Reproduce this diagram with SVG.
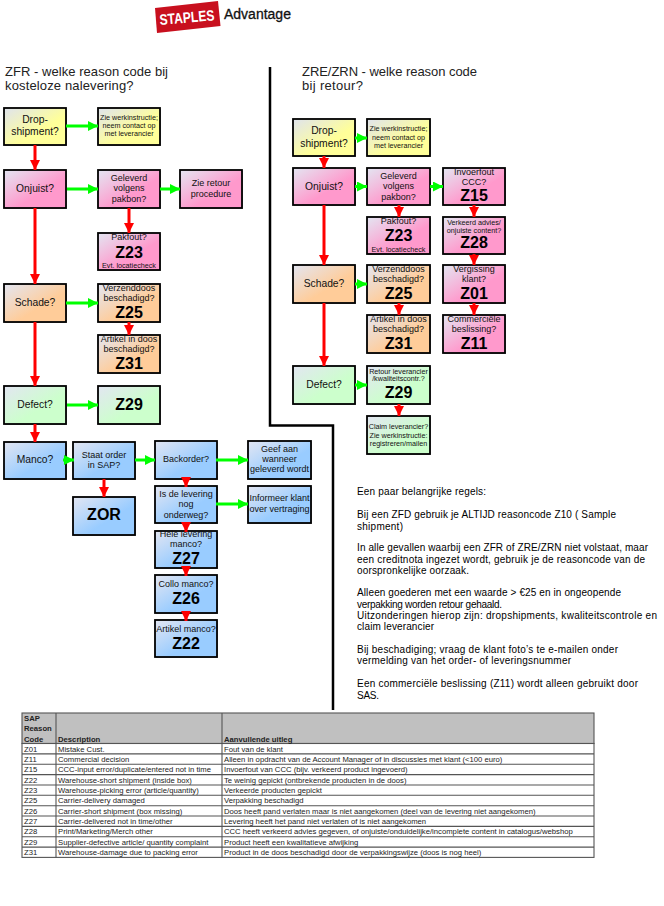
<svg xmlns="http://www.w3.org/2000/svg" width="664" height="906" viewBox="0 0 664 906">
<style>
text{font-family:"Liberation Sans",Arial,sans-serif;fill:#111}
.box{stroke:#000;stroke-width:1.8}
.sh{fill:#bbb}
.y{fill:url(#gy)}.p{fill:url(#gp)}.o{fill:url(#go)}.g{fill:url(#gg)}.b{fill:url(#gb)}
.n text{text-anchor:middle}
.m{font-size:10.3px}.k{font-size:9px}.s{font-size:7.2px}.c{font-size:16px;font-weight:bold;fill:#000}
.t{font-size:13px;fill:#222}
.r{stroke:#f00;stroke-width:3;fill:none;marker-end:url(#ar)}
.v{stroke:#0f0;stroke-width:3;fill:none;marker-end:url(#av)}
.note text{font-size:10px;fill:#000}
.tb text{font-size:7.7px;fill:#222}
.tb .h{font-weight:bold}
.tb line,.tb rect{stroke:#555;stroke-width:1.100}
</style>
<defs>
<linearGradient id="gy" x1="0" y1="0" x2="1" y2="1"><stop offset="0" stop-color="#dfe3ee"/><stop offset=".6" stop-color="#ffff99"/></linearGradient>
<linearGradient id="gp" x1="0" y1="0" x2="1" y2="1"><stop offset="0" stop-color="#e3e6f2"/><stop offset=".6" stop-color="#ff99cc"/></linearGradient>
<linearGradient id="go" x1="0" y1="0" x2="1" y2="1"><stop offset="0" stop-color="#e3e6f2"/><stop offset=".6" stop-color="#ffcc99"/></linearGradient>
<linearGradient id="gg" x1="0" y1="0" x2="1" y2="1"><stop offset="0" stop-color="#e3e6f2"/><stop offset=".6" stop-color="#ccffcc"/></linearGradient>
<linearGradient id="gb" x1="0" y1="0" x2="1" y2="1"><stop offset="0" stop-color="#e3e6f2"/><stop offset=".6" stop-color="#99ccff"/></linearGradient>
<marker id="ar" markerUnits="userSpaceOnUse" markerWidth="11" markerHeight="11" refX="10" refY="5" orient="auto"><path d="M0 0L10 5L0 10z" fill="#f00"/></marker>
<marker id="av" markerUnits="userSpaceOnUse" markerWidth="11" markerHeight="11" refX="10" refY="5" orient="auto"><path d="M0 0L10 5L0 10z" fill="#0f0"/></marker>
</defs>
<rect width="664" height="906" fill="#fff"/>
<g id="logo"><polygon points="155,8 218,1 220.500,26 157,33" fill="#c8101e"/><text x="160" y="25" transform="rotate(-5 160 25)" textLength="55" lengthAdjust="spacingAndGlyphs" style="font-size:15px;font-weight:bold;fill:#fff">STAPLES</text><text x="224" y="19" style="font-size:14px;fill:#111;stroke:#111;stroke-width:.3px">Advantage</text></g>
<g id="titles"><text class="t" x="5" y="76" textLength="163">ZFR - welke reason code bij</text><text class="t" x="5" y="90" textLength="128.500">kosteloze nalevering?</text><text class="t" x="302" y="76" textLength="175">ZRE/ZRN - welke reason code</text><text class="t" x="302" y="90" textLength="61">bij retour?</text></g>
<path id="divider" d="M270 67V425.500H333V710" fill="none" stroke="#000" stroke-width="2.500"/>

<g class="n" id="l-drop"><rect class="sh" x="5" y="109" width="62" height="37"/><rect class="box y" x="4" y="108" width="62" height="37"/><text class="m" x="35" y="123">Drop-</text><text class="m" x="35" y="135">shipment?</text></g>
<g class="n" id="l-zie"><rect class="sh" x="99" y="109" width="62" height="37"/><rect class="box y" x="98" y="108" width="62" height="37"/><text class="s" x="129" y="120">Zie werkinstructie;</text><text class="s" x="129" y="128">neem contact op</text><text class="s" x="129" y="136">met leverancier</text></g>
<g class="n" id="l-onjuist"><rect class="sh" x="5" y="171" width="62" height="38"/><rect class="box p" x="4" y="170" width="62" height="38"/><text class="m" x="35" y="192">Onjuist?</text></g>
<g class="n" id="l-geleverd"><rect class="sh" x="99" y="171" width="62" height="38"/><rect class="box p" x="98" y="170" width="62" height="38"/><text class="k" x="129" y="181">Geleverd</text><text class="k" x="129" y="191">volgens</text><text class="k" x="129" y="201.500">pakbon?</text></g>
<g class="n" id="l-retour"><rect class="sh" x="181" y="171" width="62" height="38"/><rect class="box p" x="180" y="170" width="62" height="38"/><text class="k" x="211" y="186">Zie retour</text><text class="k" x="211" y="197">procedure</text></g>
<g class="n" id="l-z23"><rect class="sh" x="99" y="234" width="62" height="37"/><rect class="box p" x="98" y="233" width="62" height="37"/><text class="k" x="129" y="240">Pakfout?</text><text class="c" x="129" y="258">Z23</text><text class="s" x="129" y="268">Evt. locatiecheck</text></g>
<g class="n" id="l-schade"><rect class="sh" x="5" y="285" width="62" height="38"/><rect class="box o" x="4" y="284" width="62" height="38"/><text class="m" x="35" y="306">Schade?</text></g>
<g class="n" id="l-z25"><rect class="sh" x="99" y="285" width="62" height="38"/><rect class="box o" x="98" y="284" width="62" height="38"/><text class="k" x="129" y="291">Verzenddoos</text><text class="k" x="129" y="301">beschadigd?</text><text class="c" x="129" y="318">Z25</text></g>
<g class="n" id="l-z31"><rect class="sh" x="99" y="336" width="62" height="38"/><rect class="box o" x="98" y="335" width="62" height="38"/><text class="k" x="129" y="342">Artikel in doos</text><text class="k" x="129" y="352">beschadigd?</text><text class="c" x="129" y="369">Z31</text></g>
<g class="n" id="l-defect"><rect class="sh" x="5" y="387" width="62" height="38"/><rect class="box g" x="4" y="386" width="62" height="38"/><text class="m" x="35" y="408">Defect?</text></g>
<g class="n" id="l-z29"><rect class="sh" x="99" y="387" width="62" height="38"/><rect class="box g" x="98" y="386" width="62" height="38"/><text class="c" x="129" y="410">Z29</text></g>
<g class="n" id="l-manco"><rect class="sh" x="5" y="443" width="62" height="37"/><rect class="box b" x="4" y="442" width="62" height="37"/><text class="m" x="35" y="463">Manco?</text></g>
<g class="n" id="l-sap"><rect class="sh" x="74" y="443" width="62" height="37"/><rect class="box b" x="73" y="442" width="62" height="37"/><text class="k" x="104" y="458">Staat order</text><text class="k" x="104" y="468">in SAP?</text></g>
<g class="n" id="l-back"><rect class="sh" x="156" y="442" width="62" height="38"/><rect class="box b" x="155" y="441" width="62" height="38"/><text class="k" x="186" y="462">Backorder?</text></g>
<g class="n" id="l-geef"><rect class="sh" x="249" y="442" width="63" height="38"/><rect class="box b" x="248" y="441" width="63" height="38"/><text class="k" x="279.500" y="452">Geef aan</text><text class="k" x="279.500" y="462">wanneer</text><text class="k" x="279.500" y="472">geleverd wordt</text></g>
<g class="n" id="l-zor"><rect class="sh" x="74" y="498" width="62" height="38"/><rect class="box b" x="73" y="497" width="62" height="38"/><text class="c" x="104" y="520">ZOR</text></g>
<g class="n" id="l-onderweg"><rect class="sh" x="156" y="487" width="62" height="37"/><rect class="box b" x="155" y="486" width="62" height="37"/><text class="k" x="186" y="497">Is de levering</text><text class="k" x="186" y="507">nog</text><text class="k" x="186" y="517.500">onderweg?</text></g>
<g class="n" id="l-inform"><rect class="sh" x="249" y="487" width="63" height="37"/><rect class="box b" x="248" y="486" width="63" height="37"/><text class="k" x="279.500" y="501">Informeer klant</text><text class="k" x="279.500" y="512">over vertraging</text></g>
<g class="n" id="l-z27"><rect class="sh" x="156" y="532" width="62" height="37"/><rect class="box b" x="155" y="531" width="62" height="37"/><text class="k" x="186" y="537">Hele levering</text><text class="k" x="186" y="547">manco?</text><text class="c" x="186" y="564">Z27</text></g>
<g class="n" id="l-z26"><rect class="sh" x="156" y="576" width="62" height="38"/><rect class="box b" x="155" y="575" width="62" height="38"/><text class="k" x="186" y="587">Collo manco?</text><text class="c" x="186" y="604">Z26</text></g>
<g class="n" id="l-z22"><rect class="sh" x="156" y="621" width="62" height="37"/><rect class="box b" x="155" y="620" width="62" height="37"/><text class="k" x="186" y="632">Artikel manco?</text><text class="c" x="186" y="649">Z22</text></g>

<g class="n" id="r-drop"><rect class="sh" x="294" y="120" width="62" height="37"/><rect class="box y" x="293" y="119" width="62" height="37"/><text class="m" x="324" y="134">Drop-</text><text class="m" x="324" y="147">shipment?</text></g>
<g class="n" id="r-zie"><rect class="sh" x="368" y="120" width="63" height="37"/><rect class="box y" x="367" y="119" width="63" height="37"/><text class="s" x="398.500" y="131">Zie werkinstructie;</text><text class="s" x="398.500" y="139.500">neem contact op</text><text class="s" x="398.500" y="147.500">met leverancier</text></g>
<g class="n" id="r-onjuist"><rect class="sh" x="294" y="169" width="62" height="37"/><rect class="box p" x="293" y="168" width="62" height="37"/><text class="m" x="324" y="190">Onjuist?</text></g>
<g class="n" id="r-geleverd"><rect class="sh" x="368" y="169" width="63" height="37"/><rect class="box p" x="367" y="168" width="63" height="37"/><text class="k" x="398.500" y="179">Geleverd</text><text class="k" x="398.500" y="189">volgens</text><text class="k" x="398.500" y="199.500">pakbon?</text></g>
<g class="n" id="r-z15"><rect class="sh" x="444" y="169" width="62" height="37"/><rect class="box p" x="443" y="168" width="62" height="37"/><text class="k" x="474" y="174.500">Invoerfout</text><text class="k" x="474" y="185">CCC?</text><text class="c" x="474" y="201">Z15</text></g>
<g class="n" id="r-z23"><rect class="sh" x="368" y="218" width="63" height="37"/><rect class="box p" x="367" y="217" width="63" height="37"/><text class="k" x="398.500" y="224">Pakfout?</text><text class="c" x="398.500" y="241">Z23</text><text class="s" x="398.500" y="252">Evt. locatiecheck</text></g>
<g class="n" id="r-z28"><rect class="sh" x="444" y="218" width="62" height="37"/><rect class="box p" x="443" y="217" width="62" height="37"/><text class="s" x="474" y="224.500">Verkeerd advies/</text><text class="s" x="474" y="232.500">onjuiste content?</text><text class="c" x="474" y="248">Z28</text></g>
<g class="n" id="r-schade"><rect class="sh" x="294" y="266" width="62" height="38"/><rect class="box o" x="293" y="265" width="62" height="38"/><text class="m" x="324" y="287">Schade?</text></g>
<g class="n" id="r-z25"><rect class="sh" x="368" y="266" width="63" height="38"/><rect class="box o" x="367" y="265" width="63" height="38"/><text class="k" x="398.500" y="272">Verzenddoos</text><text class="k" x="398.500" y="282">beschadigd?</text><text class="c" x="398.500" y="299">Z25</text></g>
<g class="n" id="r-z01"><rect class="sh" x="444" y="266" width="62" height="38"/><rect class="box p" x="443" y="265" width="62" height="38"/><text class="k" x="474" y="272">Vergissing</text><text class="k" x="474" y="282">klant?</text><text class="c" x="474" y="299">Z01</text></g>
<g class="n" id="r-z31"><rect class="sh" x="368" y="316" width="63" height="38"/><rect class="box o" x="367" y="315" width="63" height="38"/><text class="k" x="398.500" y="322">Artikel in doos</text><text class="k" x="398.500" y="332">beschadigd?</text><text class="c" x="398.500" y="349">Z31</text></g>
<g class="n" id="r-z11"><rect class="sh" x="444" y="316" width="62" height="38"/><rect class="box p" x="443" y="315" width="62" height="38"/><text class="k" x="474" y="322">Commerciële</text><text class="k" x="474" y="332">beslissing?</text><text class="c" x="474" y="349">Z11</text></g>
<g class="n" id="r-defect"><rect class="sh" x="294" y="367" width="62" height="38"/><rect class="box g" x="293" y="366" width="62" height="38"/><text class="m" x="324" y="388">Defect?</text></g>
<g class="n" id="r-z29"><rect class="sh" x="368" y="367" width="63" height="38"/><rect class="box g" x="367" y="366" width="63" height="38"/><text class="s" x="398.500" y="373.500">Retour leverancier</text><text class="s" x="398.500" y="381">/kwaliteitscontr.?</text><text class="c" x="398.500" y="398">Z29</text></g>
<g class="n" id="r-claim"><rect class="sh" x="368" y="417" width="63" height="38"/><rect class="box g" x="367" y="416" width="63" height="38"/><text class="s" x="398.500" y="429">Claim leverancier?</text><text class="s" x="398.500" y="437.500">Zie werkinstructie:</text><text class="s" x="398.500" y="445.500">registreren/mailen</text></g>

<g id="connectors">
<path class="r" d="M35 145V170"/><path class="r" d="M35 208V284"/><path class="r" d="M35 322V386"/><path class="r" d="M35 424V442"/>
<path class="r" d="M129 208V233"/><path class="r" d="M129 322V335"/><path class="r" d="M104 479V497"/>
<path class="r" d="M186 477V487"/><path class="r" d="M186 522V532"/><path class="r" d="M186 566V576"/><path class="r" d="M186 611V621"/>
<path class="v" d="M66 126H98"/><path class="v" d="M67 189H98"/><path class="v" d="M160 189H180"/><path class="v" d="M66 303H98"/><path class="v" d="M67 405H98"/>
<path class="v" d="M63 460H74"/><path class="v" d="M135 460H155"/><path class="v" d="M216 460H248"/><path class="v" d="M216 504H248"/>
<path class="v" d="M355 138H367"/><path class="v" d="M355 186.500H367"/><path class="v" d="M430 186.500H443"/><path class="v" d="M355 284H367"/><path class="v" d="M355 385H367"/>
<path class="r" d="M324 156V168"/><path class="r" d="M324 205V265"/><path class="r" d="M324 303V366"/>
<path class="r" d="M399 205V217"/><path class="r" d="M399 303V315"/><path class="r" d="M399 404V416"/>
<path class="r" d="M474 205V217"/><path class="r" d="M474 254V265"/><path class="r" d="M474 303V315"/>
</g>

<g class="note" id="notes">
<text x="357" y="495" textLength="129">Een paar belangrijke regels:</text>
<text x="357" y="517.500" textLength="259">Bij een ZFD gebruik je ALTIJD reasoncode Z10 ( Sample</text>
<text x="357" y="530" textLength="46">shipment)</text>
<text x="357" y="551" textLength="291">In alle gevallen waarbij een ZFR of ZRE/ZRN niet volstaat, maar</text>
<text x="357" y="562.500" textLength="288">een creditnota ingezet wordt, gebruik je de reasoncode van de</text>
<text x="357" y="574" textLength="112">oorspronkelijke oorzaak.</text>
<text x="357" y="596" textLength="264">Alleen goederen met een waarde &gt; €25 en in ongeopende</text>
<text x="357" y="607.500" textLength="145">verpakking worden retour gehaald.</text>
<text x="357" y="619" textLength="300">Uitzonderingen hierop zijn: dropshipments, kwaliteitscontrole en</text>
<text x="357" y="630" textLength="77">claim leverancier</text>
<text x="357" y="652.500" textLength="261">Bij beschadiging; vraag de klant foto’s te e-mailen onder</text>
<text x="357" y="664" textLength="214">vermelding van het order- of leveringsnummer</text>
<text x="357" y="687" textLength="281">Een commerciële beslissing (Z11) wordt alleen gebruikt door</text>
<text x="357" y="698.500" textLength="22">SAS.</text>
</g>
<g class="tb" id="table">
<rect x="22" y="713" width="572" height="30.500" fill="#c0c0c0"/>
<rect x="22" y="743.500" width="572" height="113.900" fill="#fff"/>
<line x1="56" y1="713" x2="56" y2="857.400"/><line x1="222" y1="713" x2="222" y2="857.400"/>
<line x1="22" y1="753.900" x2="594" y2="753.900"/><line x1="22" y1="764.200" x2="594" y2="764.200"/><line x1="22" y1="774.600" x2="594" y2="774.600"/><line x1="22" y1="785" x2="594" y2="785"/><line x1="22" y1="795.300" x2="594" y2="795.300"/><line x1="22" y1="805.700" x2="594" y2="805.700"/><line x1="22" y1="816" x2="594" y2="816"/><line x1="22" y1="826.400" x2="594" y2="826.400"/><line x1="22" y1="836.800" x2="594" y2="836.800"/><line x1="22" y1="847.100" x2="594" y2="847.100"/>
<text class="h" x="24" y="720.500">SAP</text><text class="h" x="24" y="731">Reason</text><text class="h" x="24" y="741.500">Code</text><text class="h" x="58" y="741.500">Description</text><text class="h" x="224" y="741.500">Aanvullende uitleg</text>
<text x="24" y="751.500">Z01</text><text x="58" y="751.500">Mistake Cust.</text><text x="224" y="751.500">Fout van de klant</text>
<text x="24" y="761.900">Z11</text><text x="58" y="761.900">Commercial decision</text><text x="224" y="761.900">Alleen in opdracht van de Account Manager of in discussies met klant (&lt;100 euro)</text>
<text x="24" y="772.300">Z15</text><text x="58" y="772.300">CCC-input error/duplicate/entered not in time</text><text x="224" y="772.300">Invoerfout van CCC (bijv. verkeerd product ingevoerd)</text>
<text x="24" y="782.600">Z22</text><text x="58" y="782.600">Warehouse-short shipment (inside box)</text><text x="224" y="782.600">Te weinig gepickt (ontbrekende producten in de doos)</text>
<text x="24" y="793">Z23</text><text x="58" y="793">Warehouse-picking error (article/quantity)</text><text x="224" y="793">Verkeerde producten gepickt</text>
<text x="24" y="803.400">Z25</text><text x="58" y="803.400">Carrier-delivery damaged</text><text x="224" y="803.400">Verpakking beschadigd</text>
<text x="24" y="813.700">Z26</text><text x="58" y="813.700">Carrier-short shipment (box missing)</text><text x="224" y="813.700">Doos heeft pand verlaten maar is niet aangekomen (deel van de levering niet aangekomen)</text>
<text x="24" y="824.100">Z27</text><text x="58" y="824.100">Carrier-delivered not in time/other</text><text x="224" y="824.100">Levering heeft het pand niet verlaten of is niet aangekomen</text>
<text x="24" y="834.400">Z28</text><text x="58" y="834.400">Print/Marketing/Merch other</text><text x="224" y="834.400">CCC heeft verkeerd advies gegeven, of onjuiste/onduidelijke/incomplete content in catalogus/webshop</text>
<text x="24" y="844.800">Z29</text><text x="58" y="844.800">Supplier-defective article/ quantity complaint</text><text x="224" y="844.800">Product heeft een kwalitatieve afwijking</text>
<text x="24" y="855.100">Z31</text><text x="58" y="855.100">Warehouse-damage due to packing error</text><text x="224" y="855.100">Product in de doos beschadigd door de verpakkingswijze (doos is nog heel)</text>
</g>
</svg>
